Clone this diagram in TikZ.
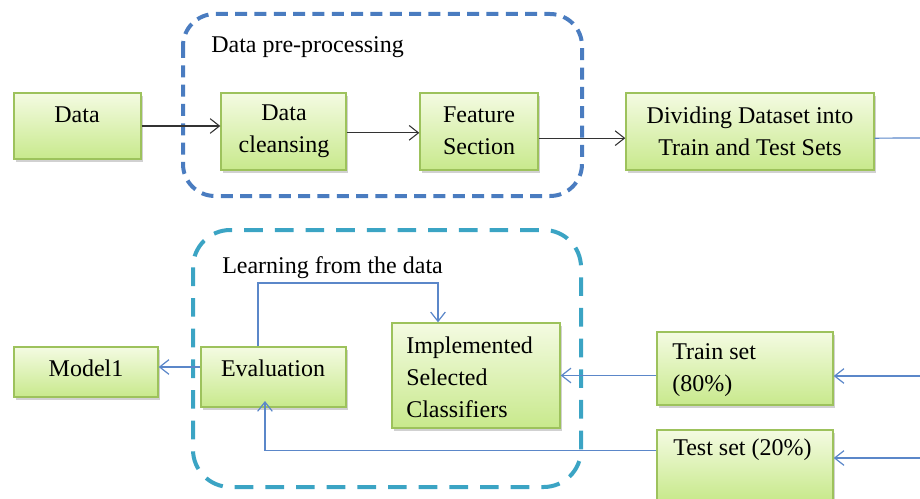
\documentclass[tikz,border=0pt]{standalone}
\usepackage{fontspec}
\setmainfont{Liberation Serif}
\usetikzlibrary{arrows.meta,fit,shadows}

\definecolor{boxtop}{HTML}{F4FBE2}
\definecolor{boxbot}{HTML}{C8E98C}
\definecolor{boxline}{HTML}{9DC25C}
\definecolor{groupA}{HTML}{4A7CC0}
\definecolor{groupB}{HTML}{3BA4C4}
\definecolor{flowblk}{HTML}{333333}
\definecolor{flowblue}{HTML}{5B87C9}

\tikzset{
  gbox/.style={draw=boxline, line width=1pt, inner sep=0pt,
    top color=boxtop, bottom color=boxbot,
    drop shadow={shadow xshift=1.5pt, shadow yshift=-2pt, opacity=0.3, fill=black!60}},
  txt/.style={inner sep=0pt, font=\fontsize{18}{24}\selectfont},
  grpA/.style={draw=groupA, line width=3pt, dash pattern=on 9pt off 5.5pt, rounded corners=24pt},
  grpB/.style={draw=groupB, line width=3pt, dash pattern=on 14pt off 9pt, rounded corners=28pt},
  blk/.style={draw=flowblk, line width=0.8pt, -{Straight Barb[length=7pt,width=11pt]}},
  blu/.style={draw=flowblue, line width=0.9pt, -{Straight Barb[length=7pt,width=11pt]}},
  bluplain/.style={draw=flowblue, line width=0.9pt}
}

\begin{document}
\begin{tikzpicture}[x=0.75pt, y=-0.75pt]
  \useasboundingbox (0,0) rectangle (920,499);

  % dashed group frames
  \draw[grpA] (183,14) rectangle (582,196);
  \draw[grpB] (193,230) rectangle (581,487);

  % group titles
  \node[txt, anchor=west] (preT) at (211,47) {Data pre-processing};
  \node[txt, anchor=west] (learnT) at (222,268) {Learning from the data};

  % upper row of boxes
  \node[gbox, fit={(14,93) (141,159)}] (data) {};
  \node[gbox, fit={(221,93) (346,170)}] (clean) {};
  \node[gbox, fit={(420,93) (538,170)}] (feat) {};
  \node[gbox, fit={(626,93) (874,170)}] (div) {};

  \node[txt] (dataT) at (77,115) {Data};
  \node[txt, align=center] (cleanT) at (284,131) {Data\\cleansing};
  \node[txt, align=center] (featT) at (479,131) {Feature\\Section};
  \node[txt, align=center] (divT) at (750,131) {Dividing Dataset into\\Train and Test Sets};

  % lower row of boxes
  \node[gbox, fit={(14,347) (158,397)}] (model) {};
  \node[gbox, fit={(201,347) (346,407)}] (eval) {};
  \node[gbox, fit={(392,323) (560,428)}] (impl) {};
  \node[gbox, fit={(657,332) (833,405)}] (train) {};
  \node[gbox, fit={(657,430) (833,500)}] (test) {};

  \node[txt] (modelT) at (86,368) {Model1};
  \node[txt] (evalT) at (273,368) {Evaluation};
  \node[txt, anchor=west, align=left] (implT) at (406,377) {Implemented\\Selected\\Classifiers};
  \node[txt, anchor=west, align=left] (trainT) at (672,370) {Train set\\(80\%)};
  \node[txt, anchor=west] (testT) at (673,450) {Test set (20\%)};

  % free ends at the right margin
  \coordinate (outR) at (920,138);
  \coordinate (inTrain) at (920,376);
  \coordinate (inTest) at (920,458);
  \coordinate (loopTop) at (350,283);

  % upper flow
  \draw[blk] (data.east) -- (data.east -| clean.west);
  \draw[blk] ([yshift=-1pt]clean.east) -- ([yshift=-1pt]clean.east -| feat.west);
  \draw[blk] ([yshift=-5pt]feat.east) -- ([yshift=-5pt]feat.east -| div.west);
  \draw[bluplain] ([yshift=-5pt]div.east) -- (outR);

  % lower flow
  \draw[blu] (inTrain) -- (inTrain -| train.east);
  \draw[blu] (inTest) -- (inTest -| test.east);
  \draw[blu] (impl.east -| train.west) -- (impl.east);
  \draw[blu, shorten >=-5pt] ([yshift=11pt]test.west) -| ([xshift=-6.4pt]eval.south);
  \draw[blu] ([xshift=-11.6pt]eval.north) |- (loopTop) -| ([xshift=-28.5pt]impl.north);
  \draw[blu] ([yshift=7.5pt]eval.west) -- ([yshift=7.5pt]eval.west -| model.east);
\end{tikzpicture}
\end{document}
